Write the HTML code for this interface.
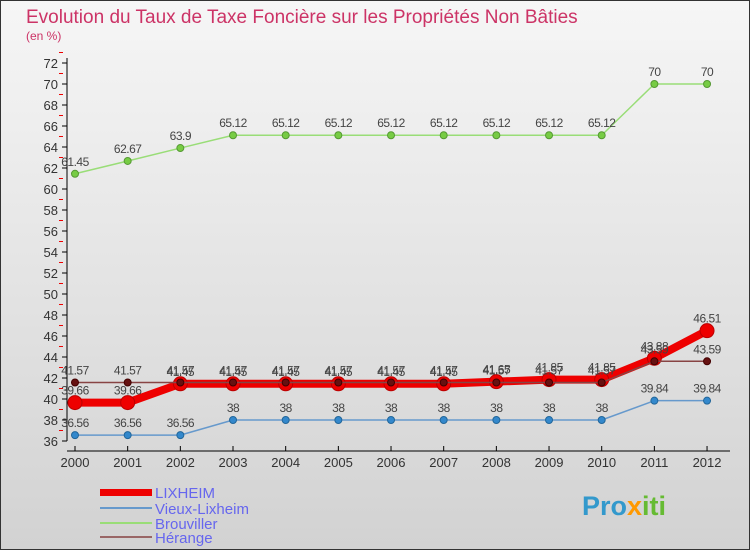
<!DOCTYPE html>
<html><head><meta charset="utf-8"><style>
body{margin:0}
svg{display:block;font-family:"Liberation Sans",sans-serif}
</style></head><body>
<svg id="c" width="750" height="550" viewBox="0 0 750 550">
<defs><linearGradient id="bg" x1="0" y1="0" x2="0" y2="1"><stop offset="0" stop-color="#f6f6f6"/><stop offset="1" stop-color="#d2d2d2"/></linearGradient></defs>
<rect x="0.5" y="0.5" width="749" height="549" fill="url(#bg)" stroke="#333"/>
<text x="26" y="23" font-size="19" fill="#cc3366">Evolution du Taux de Taxe Foncière sur les Propriétés Non Bâties</text>
<text x="26" y="40" font-size="12" fill="#cc3366">(en %)</text>
<g id="axes"></g><g id="series"></g>
<g>
<rect x="100" y="489" width="52" height="7" fill="#e00"/>
<text x="155" y="498" font-size="15" fill="#6666ee">LIXHEIM</text>
<line x1="100" y1="508" x2="152" y2="508" stroke="#6699cc" stroke-width="2"/>
<text x="155" y="514" font-size="15" fill="#6666ee">Vieux-Lixheim</text>
<line x1="100" y1="523" x2="152" y2="523" stroke="#99dd77" stroke-width="2"/>
<text x="155" y="529" font-size="15" fill="#6666ee">Brouviller</text>
<line x1="100" y1="537" x2="152" y2="537" stroke="#996666" stroke-width="2"/>
<text x="155" y="543" font-size="15" fill="#6666ee">Hérange</text>
</g>
<text x="582" y="515" font-size="27" font-weight="bold" fill="#3399cc">Pro<tspan fill="#ff9900">x</tspan><tspan fill="#66bb33">iti</tspan></text>
</svg>
<script>
const years=[2000,2001,2002,2003,2004,2005,2006,2007,2008,2009,2010,2011,2012];
const lixheim=[39.66,39.66,41.45,41.45,41.45,41.45,41.45,41.45,41.65,41.85,41.85,43.88,46.51];
const vieux=[36.56,36.56,36.56,38,38,38,38,38,38,38,38,39.84,39.84];
const brouviller=[61.45,62.67,63.9,65.12,65.12,65.12,65.12,65.12,65.12,65.12,65.12,70,70];
const herange=[41.57,41.57,41.57,41.57,41.57,41.57,41.57,41.57,41.57,41.57,41.57,43.59,43.59];
const yTicks=[36,38,40,42,44,46,48,50,52,54,56,58,60,62,64,66,68,70,72];
const NS="http://www.w3.org/2000/svg";
const X=i=>75+i*52.67, Y=v=>441-(v-36)*10.5;
function mk(t,a,p){const e=document.createElementNS(NS,t);for(const k in a)e.setAttribute(k,a[k]);p.appendChild(e);return e;}
const ax=document.getElementById('axes'), se=document.getElementById('series');
let l=mk('line',{x1:67,y1:Y(72)-5,x2:67,y2:Y(36),stroke:'#000'},ax);


l=mk('line',{x1:67,y1:451,x2:730,y2:451,stroke:'#000'},ax);


yTicks.forEach(v=>{mk('line',{x1:62,y1:Y(v),x2:67,y2:Y(v),stroke:'#000'},ax);
 mk('line',{x1:59,y1:Y(v+1),x2:63,y2:Y(v+1),stroke:'#e00'},ax);
 const t=mk('text',{x:58,y:Y(v)+5,'font-size':13,fill:'#333','text-anchor':'end'},ax);t.textContent=v;
 
 });
years.forEach((yr,i)=>{mk('line',{x1:X(i),y1:446,x2:X(i),y2:451,stroke:'#000'},ax);
 const t=mk('text',{x:X(i),y:467,'font-size':13,fill:'#333','text-anchor':'middle'},ax);t.textContent=yr;
 
 });
function draw(name,vals,color,w,r,fill,stroke){
 const g=mk('g',{},se);
 
 
 mk('polyline',{points:vals.map((v,i)=>X(i)+','+Y(v)).join(' '),fill:'none',stroke:color,'stroke-width':w,'stroke-linejoin':'round'},g);
 vals.forEach((v,i)=>{const c=mk('circle',{cx:X(i),cy:Y(v),r:r,fill:fill,stroke:stroke},g);
  
  
  const t=mk('text',{x:X(i),y:Y(v)-8,'font-size':12,fill:'#444','text-anchor':'middle','letter-spacing':'-0.5'},g);t.textContent=v;
  
  });
}
draw('brouviller',brouviller,'#99dd77',1.5,3.5,'#77cc44','#559933');
draw('vieux-lixheim',vieux,'#6699cc',1.5,3.5,'#3388cc','#22669a');
draw('lixheim',lixheim,'#ee0000',8,7,'#ee0000','#bb0000');
draw('herange',herange,'#884444',1.5,3.5,'#661111','#440000');
</script>
</body></html>
